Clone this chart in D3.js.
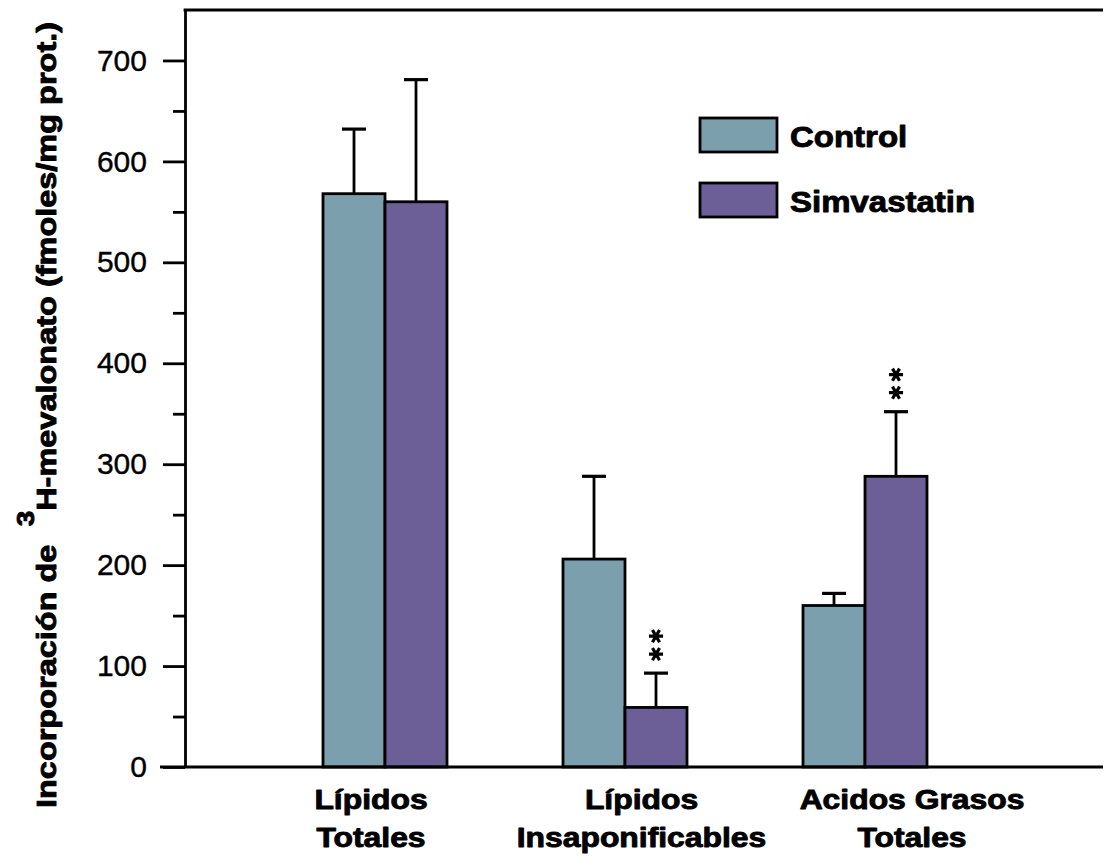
<!DOCTYPE html>
<html>
<head>
<meta charset="utf-8">
<script src="https://cdn.jsdelivr.net/npm/d3@7"></script>
<style>
  html, body { margin: 0; padding: 0; background: #fff; }
  svg { display: block; }
  text { font-family: "Liberation Sans", Arial, Helvetica, sans-serif; fill: #000; }
  .heavy { stroke: #000; stroke-width: 0.9px; stroke-linejoin: round; }
</style>
</head>
<body>
<svg id="chart" width="1105" height="865"></svg>
<script>
// Incorporation of 3H-mevalonate into lipid fractions (mean + SEM)
const categories = ["Lípidos Totales", "Lípidos Insaponificables", "Acidos Grasos Totales"];
const categoryLines = [["Lípidos", "Totales"], ["Lípidos", "Insaponificables"], ["Acidos Grasos", "Totales"]];
const seriesNames = ["Control", "Simvastatin"];
const controlMeans = [568, 206, 160];
const controlErrors = [64, 82, 12];
const simvastatinMeans = [560, 59, 288];
const simvastatinErrors = [121, 34, 64];
const simvastatinSignificant = [false, true, true];
const majorTicks = [0, 100, 200, 300, 400, 500, 600, 700];
const minorTicks = [50, 150, 250, 350, 450, 550, 650];

const colors = { "Control": "#7b9fac", "Simvastatin": "#6c5f98" };

const svg = d3.select("#chart");
const margin = { left: 185, top: 10, right: 1103, bottom: 767 };

const y = d3.scaleLinear().domain([0, 750]).range([margin.bottom, margin.top]);
const xGroup = d3.scalePoint().domain(categories).range([385, 865]);
const xLabel = d3.scalePoint().domain(categories).range([371, 912]);
const barW = 62;
const xSeries = d3.scaleBand().domain(seriesNames).range([-barW, barW]).padding(0);

const rows = categories.map((c, i) => ({
  category: c,
  bars: [
    { series: "Control", value: controlMeans[i], err: controlErrors[i], sig: false },
    { series: "Simvastatin", value: simvastatinMeans[i], err: simvastatinErrors[i], sig: simvastatinSignificant[i] }
  ]
}));

const stretch = 1.16;

// Bars with error bars
const groups = svg.selectAll("g.group").data(rows).join("g")
  .attr("class", "group")
  .attr("transform", d => `translate(${xGroup(d.category)},0)`);

const bar = groups.selectAll("g.bar").data(d => d.bars).join("g").attr("class", "bar");
const cx = d => xSeries(d.series) + xSeries.bandwidth() / 2;

bar.append("line")
  .attr("x1", cx).attr("x2", cx)
  .attr("y1", d => y(d.value))
  .attr("y2", d => y(d.value + d.err))
  .attr("stroke", "#000").attr("stroke-width", 2.8);
bar.append("line")
  .attr("x1", d => cx(d) - 12)
  .attr("x2", d => cx(d) + 12)
  .attr("y1", d => y(d.value + d.err))
  .attr("y2", d => y(d.value + d.err))
  .attr("stroke", "#000").attr("stroke-width", 3.2);

bar.append("rect")
  .attr("x", d => xSeries(d.series))
  .attr("width", xSeries.bandwidth())
  .attr("y", d => y(d.value))
  .attr("height", d => y(0) - y(d.value))
  .attr("fill", d => colors[d.series])
  .attr("stroke", "#000").attr("stroke-width", 2.8);

// Significance marks (two stacked asterisks above the error bar)
const star = d3.symbol().type(d3.symbolAsterisk).size(140)();
bar.filter(d => d.sig).each(function(d) {
  const g = d3.select(this);
  [37, 19].forEach(off => {
    g.append("path")
      .attr("d", star)
      .attr("transform", `translate(${cx(d)},${y(d.value + d.err) - off}) rotate(90)`)
      .attr("fill", "none").attr("stroke", "#000").attr("stroke-width", 3.2);
  });
});

// Y axis
const yAxis = d3.axisLeft(y).tickValues(majorTicks).tickSize(22).tickPadding(16).tickSizeOuter(0);
const gy = svg.append("g").attr("transform", `translate(${margin.left},0)`).call(yAxis);
gy.select(".domain").attr("stroke", "#000").attr("stroke-width", 2.8);
gy.selectAll(".tick line").attr("stroke", "#000").attr("stroke-width", 2.8);
gy.selectAll(".tick text").attr("font-size", 30)
  .attr("font-family", "'Liberation Sans', Arial, sans-serif").attr("fill", "#000")
  .attr("stroke", "#000").attr("stroke-width", 0.4);
const yMinor = d3.axisLeft(y).tickValues(minorTicks).tickSize(12).tickFormat("").tickSizeOuter(0);
const gym = svg.append("g").attr("transform", `translate(${margin.left},0)`).call(yMinor);
gym.select(".domain").remove();
gym.selectAll(".tick line").attr("stroke", "#000").attr("stroke-width", 2.8);

// Baseline and top frame
svg.append("line").attr("x1", 160).attr("x2", margin.right)
  .attr("y1", y(0)).attr("y2", y(0)).attr("stroke", "#000").attr("stroke-width", 3);
svg.append("line").attr("x1", margin.left - 1.4).attr("x2", margin.right)
  .attr("y1", y(750)).attr("y2", y(750)).attr("stroke", "#000").attr("stroke-width", 3);

// Category labels
categories.forEach((c, i) => {
  categoryLines[i].forEach((line, k) => {
    svg.append("text")
      .attr("class", "heavy")
      .attr("transform", `translate(${xLabel(c)},${809 + k * 38}) scale(1.18,1)`)
      .attr("text-anchor", "middle")
      .attr("font-size", 27).attr("font-weight", "bold")
      .text(line);
  });
});

// Y axis title
const title = svg.append("text")
  .attr("class", "heavy")
  .attr("transform", `translate(56,415) rotate(-90) scale(${stretch},1)`)
  .attr("text-anchor", "middle")
  .attr("font-size", 28).attr("font-weight", "bold");
title.append("tspan").text("Incorporación de ");
title.append("tspan").attr("dx", 8).attr("dy", -22).attr("font-size", 24).text("3");
title.append("tspan").attr("dy", 22).text("H-mevalonato (fmoles/mg prot.)");

// Legend
const legend = svg.append("g").attr("transform", "translate(700,118)");
const li = legend.selectAll("g").data(seriesNames).join("g")
  .attr("transform", (d, i) => `translate(0,${i * 65})`);
li.append("rect").attr("width", 77).attr("height", 34)
  .attr("fill", d => colors[d]).attr("stroke", "#000").attr("stroke-width", 2.8);
li.append("text")
  .attr("class", "heavy")
  .attr("transform", "translate(90,29) scale(1.1,1)")
  .attr("font-size", 30).attr("font-weight", "bold")
  .text(d => d);
</script>
</body>
</html>
